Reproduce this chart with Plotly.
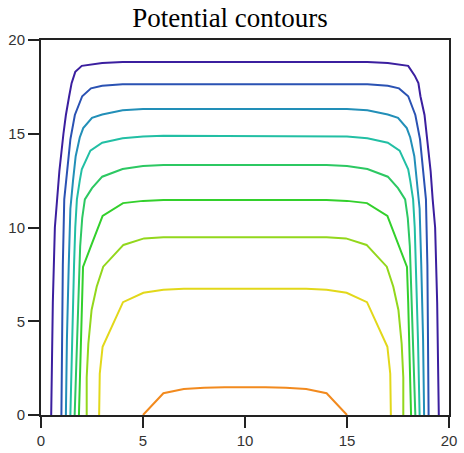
import plotly.graph_objects as go

# Contour polylines (data units)
c1_x = [0.50, 0.53, 0.58, 0.68, 0.80, 0.90, 1.10, 1.22, 1.38, 1.50, 1.68, 2.00, 3.00, 4.00, 16.00, 17.00, 18.00, 18.32, 18.50, 18.60, 18.80, 18.90, 19.10, 19.20, 19.32, 19.42, 19.47, 19.50]
c1_y = [0, 3, 6, 10, 11.5, 13, 15, 16, 17, 17.7, 18.3, 18.62, 18.77, 18.83, 18.83, 18.77, 18.62, 18.1, 17.7, 17, 16, 15, 13, 11.5, 10, 6, 3, 0]

c2_x = [1.00, 1.03, 1.07, 1.14, 1.28, 1.44, 1.66, 2.02, 2.45, 3.00, 4.00, 16.00, 17.00, 17.55, 18.00, 18.35, 18.58, 18.72, 18.87, 18.94, 18.98, 19.00]
c2_y = [0, 4, 8, 11.5, 13, 14.7, 16, 17, 17.42, 17.56, 17.64, 17.64, 17.56, 17.42, 17, 16, 14.7, 13, 11.5, 8, 4, 0]

c3_x = [1.22, 1.27, 1.36, 1.44, 1.57, 1.70, 1.90, 2.07, 2.50, 3.00, 4.00, 5.00, 15.00, 16.00, 17.00, 17.50, 17.93, 18.10, 18.30, 18.43, 18.56, 18.64, 18.73, 18.78]
c3_y = [0, 4, 8, 11, 12.5, 13.8, 14.8, 15.3, 15.85, 16.03, 16.25, 16.32, 16.32, 16.25, 16.03, 15.85, 15.3, 14.8, 13.8, 12.5, 11, 8, 4, 0]

c4_x = [1.44, 1.52, 1.62, 1.68, 1.76, 1.90, 2.00, 2.42, 3.00, 4.00, 5.00, 6.00, 14.00, 15.00, 16.00, 17.00, 17.58, 18.00, 18.10, 18.24, 18.32, 18.38, 18.48, 18.56]
c4_y = [0, 4, 8, 10, 11.5, 12.5, 13.1, 14.1, 14.52, 14.76, 14.86, 14.89, 14.89, 14.86, 14.76, 14.52, 14.1, 13.1, 12.5, 11.5, 10, 8, 4, 0]

c5_x = [1.65, 1.76, 1.86, 1.92, 2.02, 2.15, 2.50, 3.00, 4.00, 5.00, 6.00, 14.00, 15.00, 16.00, 17.00, 17.50, 17.85, 17.98, 18.08, 18.14, 18.24, 18.35]
c5_y = [0, 4, 7, 9, 10.5, 11.5, 12.1, 12.71, 13.12, 13.28, 13.33, 13.33, 13.28, 13.12, 12.71, 12.1, 11.5, 10.5, 9, 7, 4, 0]

c6_x = [1.86, 1.93, 2.00, 2.06, 2.50, 3.02, 4.02, 5.00, 6.00, 14.00, 15.00, 15.98, 16.98, 17.50, 17.94, 18.00, 18.07, 18.14]
c6_y = [0, 3, 6, 7.9, 9.15, 10.62, 11.3, 11.42, 11.46, 11.46, 11.42, 11.3, 10.62, 9.15, 7.9, 6, 3, 0]

c7_x = [2.24, 2.24, 2.32, 2.48, 2.73, 3.05, 4.04, 5.05, 6.00, 14.00, 14.95, 15.96, 16.95, 17.27, 17.52, 17.68, 17.76, 17.76]
c7_y = [0, 2, 3.8, 5.6, 6.84, 7.91, 9.07, 9.42, 9.48, 9.48, 9.42, 9.07, 7.91, 6.84, 5.6, 3.8, 2, 0]

c8_x = [2.85, 2.88, 3.02, 4.02, 5.02, 6.00, 7.00, 13.00, 14.00, 14.98, 15.98, 16.98, 17.12, 17.15]
c8_y = [0, 2.2, 3.64, 6.02, 6.52, 6.68, 6.74, 6.74, 6.68, 6.52, 6.02, 3.64, 2.2, 0]

c9_x = [5.0, 6.0, 7.0, 8.0, 9.0, 10.0, 11.0, 12.0, 13.0, 14.0, 15.0]
c9_y = [0, 1.16, 1.39, 1.46, 1.48, 1.49, 1.48, 1.46, 1.39, 1.16, 0]

contour_xs = [c1_x, c2_x, c3_x, c4_x, c5_x, c6_x, c7_x, c8_x, c9_x]
contour_ys = [c1_y, c2_y, c3_y, c4_y, c5_y, c6_y, c7_y, c8_y, c9_y]
colors = ["#3b1f9f", "#2a52b3", "#228fb8", "#22bfa4", "#2cc862", "#33d02c",
          "#93d71c", "#e2d81a", "#f28a1e"]

x_ticks = [0, 5, 10, 15, 20]
y_ticks = [0, 5, 10, 15, 20]

fig = go.Figure()
for xs, ys, col in zip(contour_xs, contour_ys, colors):
    fig.add_trace(go.Scatter(x=xs, y=ys, mode="lines",
                             line=dict(color=col, width=2),
                             showlegend=False, hoverinfo="skip"))

axis_common = dict(range=[0, 20], showgrid=False, zeroline=False, automargin=False,
                   showline=True, linecolor="#222", linewidth=2, mirror=True,
                   ticks="outside", ticklen=11, tickwidth=2, tickcolor="#222",
                   tickfont=dict(family="Liberation Sans, Arial, sans-serif", size=15, color="#333"))

fig.update_xaxes(tickvals=x_ticks, ticktext=[str(v) for v in x_ticks], **axis_common)
fig.update_yaxes(tickvals=y_ticks, ticktext=[str(v) for v in y_ticks], **axis_common)

fig.update_layout(
    width=464, height=453, autosize=False,
    margin=dict(l=41, r=15, t=40, b=38),
    paper_bgcolor="white", plot_bgcolor="white",
    title=dict(text="Potential contours", x=230 / 464, xanchor="center", xref="container",
               y=1 - 18 / 453, yanchor="middle", yref="container",
               font=dict(family="Liberation Serif, Times New Roman, serif", size=27, color="black")),
)

fig.write_html("out.html", config={"displayModeBar": False},
               post_script="document.body.style.margin='0';document.body.style.overflow='hidden';")
